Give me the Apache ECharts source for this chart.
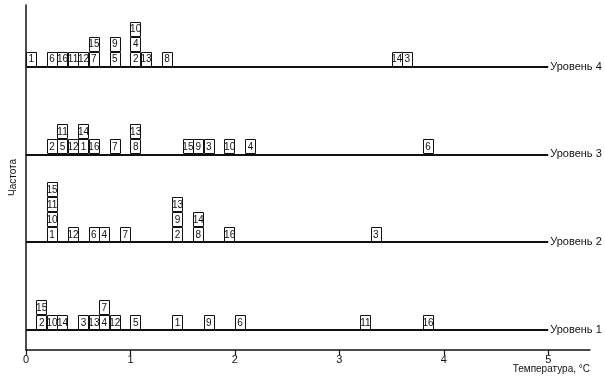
<!DOCTYPE html>
<html>
<head>
<meta charset="utf-8">
<script src="https://cdn.jsdelivr.net/npm/echarts@6/dist/echarts.min.js"></script>
<style>html,body{margin:0;padding:0;background:#fff}#c{width:605px;height:382px}</style>
</head>
<body>
<div id="c"></div>
<script>
// ---- data (temperature bin centre, box label), listed bottom-up inside each stack
const levelNames = ['Уровень 1', 'Уровень 2', 'Уровень 3', 'Уровень 4'];
const xTicks = [0, 1, 2, 3, 4, 5];
const level1 = [[0.15,'2'],[0.15,'15'],[0.25,'10'],[0.35,'14'],[0.55,'3'],[0.65,'13'],[0.75,'4'],[0.75,'7'],[0.85,'12'],[1.05,'5'],[1.45,'1'],[1.75,'9'],[2.05,'6'],[3.25,'11'],[3.85,'16']];
const level2 = [[0.25,'1'],[0.25,'10'],[0.25,'11'],[0.25,'15'],[0.45,'12'],[0.65,'6'],[0.75,'4'],[0.95,'7'],[1.45,'2'],[1.45,'9'],[1.45,'13'],[1.65,'8'],[1.65,'14'],[1.95,'16'],[3.35,'3']];
const level3 = [[0.25,'2'],[0.35,'5'],[0.35,'11'],[0.45,'12'],[0.55,'1'],[0.55,'14'],[0.65,'16'],[0.85,'7'],[1.05,'8'],[1.05,'13'],[1.55,'15'],[1.65,'9'],[1.75,'3'],[1.95,'10'],[2.15,'4'],[3.85,'6']];
const level4 = [[0.05,'1'],[0.25,'6'],[0.35,'16'],[0.45,'11'],[0.55,'12'],[0.65,'7'],[0.65,'15'],[0.85,'5'],[0.85,'9'],[1.05,'2'],[1.05,'4'],[1.05,'10'],[1.15,'13'],[1.35,'8'],[3.55,'14'],[3.65,'3']];

// ---- layout
const levelBase = [1.35, 7.2, 13.05, 18.9]; // baseline of each level in box-height units
const boxW = 0.1;
const FONT = 'Liberation Sans, Arial, sans-serif';

const levels = [level1, level2, level3, level4];
const boxData = [];
const boxLabels = [];
levels.forEach((lv, li) => {
  const cnt = {};
  lv.forEach(([x, lab]) => {
    const k = x.toFixed(2);
    const s = cnt[k] || 0;
    cnt[k] = s + 1;
    boxData.push([x, s, li]);
    boxLabels.push(lab);
  });
});

const chart = echarts.init(document.getElementById('c'), null, {renderer: 'canvas'});
chart.setOption({
  animation: false,
  backgroundColor: '#fff',
  grid: {left: 24, right: 15, top: 5, bottom: 32},
  xAxis: {
    type: 'value', min: 0, max: 5.4, interval: 1,
    splitLine: {show: false},
    axisLine: {show: true, onZero: false, lineStyle: {color: '#111', width: 1.5}},
    axisTick: {show: true, customValues: xTicks, length: 5, inside: false, lineStyle: {color: '#111', width: 1.2}},
    axisLabel: {customValues: xTicks, color: '#111', fontSize: 11, fontFamily: FONT, margin: 4}
  },
  yAxis: {
    type: 'value', min: 0, max: 23,
    splitLine: {show: false},
    axisLine: {show: true, onZero: false, lineStyle: {color: '#111', width: 1.5}},
    axisTick: {show: false},
    axisLabel: {show: false},
    name: 'Частота', nameLocation: 'middle', nameGap: 8, nameRotate: 90,
    nameTextStyle: {color: '#111', fontSize: 10, fontFamily: FONT}
  },
  graphic: [{
    type: 'text', right: 15, top: 364,
    style: {text: 'Температура, °С', fill: '#111', font: '10px ' + FONT}
  }],
  series: [
    {
      type: 'line', data: [], z: 1, silent: true,
      markLine: {
        silent: true, symbol: 'none', animation: false,
        lineStyle: {color: '#111', width: 2, type: 'solid'},
        label: {show: true, position: 'end', formatter: '{b}', distance: 2, color: '#111', fontSize: 11, fontFamily: FONT},
        data: levelBase.map((b, i) => [{name: levelNames[i], coord: [0, b]}, {coord: [5, b]}])
      }
    },
    {
      type: 'custom', z: 5, silent: true,
      data: boxData,
      encode: {x: 0, y: 1},
      renderItem: function (params, api) {
        const x = api.value(0), s = api.value(1), li = api.value(2);
        const y0 = levelBase[li] + s;
        const tl = api.coord([x - boxW / 2, y0 + 1]);
        const sz = api.size([boxW, 1]);
        return {
          type: 'group',
          children: [
            {type: 'rect', shape: {x: Math.round(tl[0]) + 0.5, y: Math.round(tl[1]) + 0.5, width: Math.round(sz[0]), height: Math.round(sz[1]) - 1},
             style: {fill: '#fff', stroke: '#111', lineWidth: 1}},
            {type: 'text', style: {text: boxLabels[params.dataIndex], x: tl[0] + sz[0] / 2, y: tl[1] + sz[1] / 2 + 0.5,
             align: 'center', verticalAlign: 'middle', font: '10px ' + FONT, fill: '#111'}}
          ]
        };
      }
    }
  ]
});
</script>
</body>
</html>
